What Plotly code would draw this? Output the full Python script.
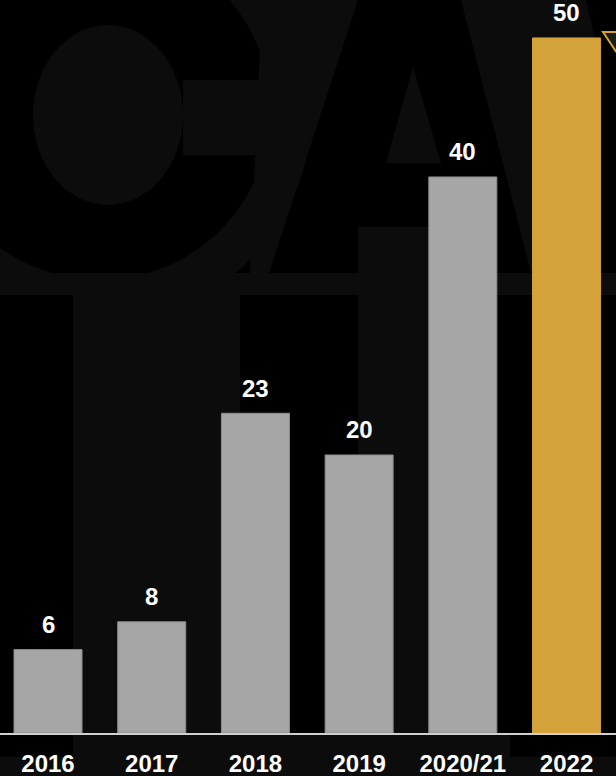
import numpy as np
import plotly.graph_objects as go

# ---- data ----
categories = ["2016", "2017", "2018", "2019", "2020/21", "2022"]
values = [6, 8, 23, 20, 40, 50]
bar_colors = ["#A6A6A6", "#A6A6A6", "#A6A6A6", "#A6A6A6", "#A6A6A6", "#D3A33A"]
bar_line_colors = ["#8C8C8C", "#8C8C8C", "#8C8C8C", "#8C8C8C", "#8C8C8C", "#D3A33A"]

W, H = 616, 776
PLOT_BOTTOM = 733  # pixel row of the axis line


def px(x):
    return x / W


def py(y):
    return (PLOT_BOTTOM - y) / PLOT_BOTTOM


def poly(points):
    return "M " + " L ".join(f"{px(x):.5f},{py(y):.5f}" for x, y in points) + " Z"


WM = "#0c0c0c"  # faint watermark grey
shapes = []


def add_poly(points, color=WM):
    shapes.append(dict(type="path", xref="paper", yref="paper", path=poly(points),
                       fillcolor=color, line=dict(width=0), layer="below"))


def add_rect(x0, y0, x1, y1, color=WM):
    shapes.append(dict(type="rect", xref="paper", yref="paper",
                       x0=px(x0), x1=px(x1), y0=py(y1), y1=py(y0),
                       fillcolor=color, line=dict(width=0), layer="below"))


# watermark: ring of the "C" (clipped at the band)
cx, cy, r_in, r_out = 100, 110, 170, 212
t = np.linspace(0, 2 * np.pi, 120)
outer = [(cx + r_out * np.cos(a), min(cy + r_out * np.sin(a), 295)) for a in t]
inner = [(cx + r_in * np.cos(a), cy + r_in * np.sin(a)) for a in t[::-1]]
shapes.append(dict(type="path", xref="paper", yref="paper",
                   path=poly(outer) + " " + poly(inner),
                   fillcolor=WM, line=dict(width=0), layer="below"))
# head disk
shapes.append(dict(type="circle", xref="paper", yref="paper",
                   x0=px(33), x1=px(183), y0=py(205), y1=py(25),
                   fillcolor=WM, line=dict(width=0), layer="below"))
add_rect(183, 80, 275, 155)
# left leg of "A"
add_poly([(262, 0), (358, 0), (269, 273), (250, 273)])
# right leg of "A"
add_poly([(461, 0), (586, 0), (600, 60), (600, 273), (531, 273)])
# inner triangle
add_poly([(386, 163), (441, 163), (413, 67)])
# horizontal band
add_rect(0, 273, 616, 295)
# stem and block
add_rect(73, 295, 240, 776)
add_rect(358, 227, 470, 776)
# bottom strips
add_rect(0, 757, 616, 776)
add_rect(212, 735, 510, 757)

# gold triangle marker at top right
add_poly([(603, 32), (643, 32), (623, 62)], color="#1c1c1c")
shapes[-1]["line"] = dict(color="#D3A33A", width=2)
shapes[-1]["layer"] = "above"

fig = go.Figure(go.Bar(
    x=categories, y=values,
    marker=dict(color=bar_colors, line=dict(color=bar_line_colors, width=1)),
    width=0.656, hoverinfo="skip",
))

annotations = [dict(x=i, y=v, xref="x", yref="y", text=str(v), showarrow=False,
                    yanchor="middle", yshift=25,
                    font=dict(family="Liberation Sans, Arial", size=24,
                              color="white", weight="bold"))
               for i, v in enumerate(values)]

fig.update_layout(
    width=W, height=H,
    margin=dict(l=0, r=0, t=0, b=H - PLOT_BOTTOM),
    paper_bgcolor="black", plot_bgcolor="rgba(0,0,0,0)",
    showlegend=False,
    shapes=shapes,
    annotations=annotations,
    xaxis=dict(type="category", range=[-0.463, 5.477], showgrid=False, zeroline=False,
               showline=True, linecolor="#D0D0D0", linewidth=2, ticks="",
               ticklabelstandoff=8,
               tickfont=dict(family="Liberation Sans, Arial", size=24,
                             color="white", weight="bold")),
    yaxis=dict(range=[0, 52.73], visible=False, showgrid=False, zeroline=False),
)

fig.write_html("out.html",
               config={"displayModeBar": False, "staticPlot": True},
               post_script="document.body.style.margin='0';"
                           "document.body.style.overflow='hidden';"
                           "document.body.style.background='black';")
